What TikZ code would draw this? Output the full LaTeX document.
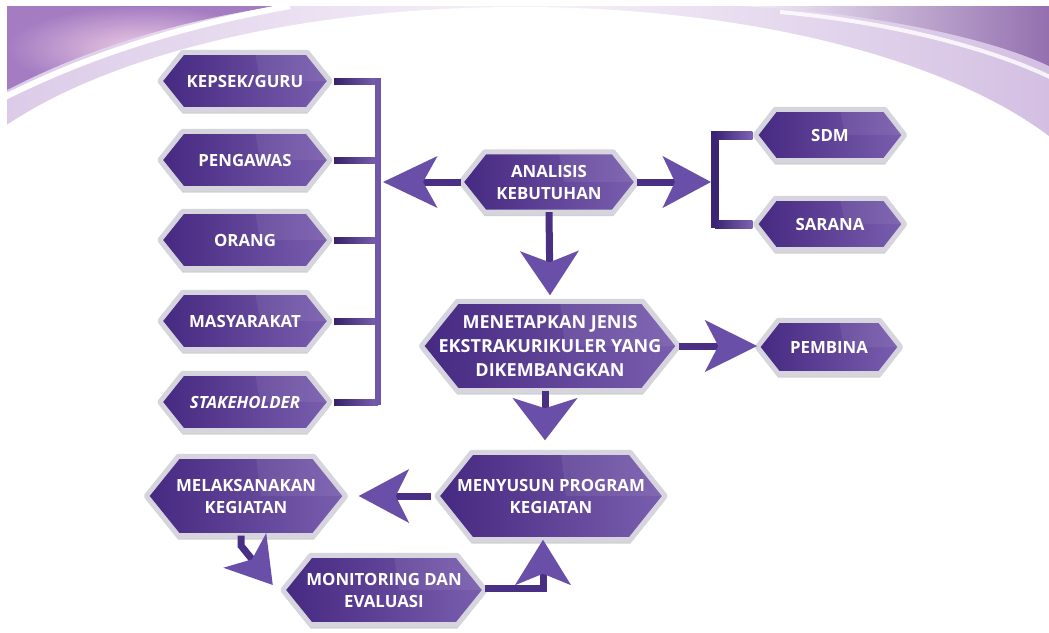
\documentclass[tikz,border=0pt]{standalone}
\usepackage{fontspec}
\setmainfont{Open Sans}
\usetikzlibrary{arrows.meta,backgrounds,calc}
\definecolor{hexdark}{HTML}{452880}
\definecolor{hexlight}{HTML}{7A5EAE}
\definecolor{rim}{HTML}{D6D5DD}
\definecolor{shaftc}{HTML}{4A3084}
\definecolor{headc}{HTML}{6A4FA9}
\definecolor{stubdark}{HTML}{352268}
\definecolor{stublight}{HTML}{7C62B2}
\definecolor{barc}{HTML}{7056A8}
\definecolor{rbarc}{HTML}{3C2474}
\definecolor{swA}{HTML}{A47CC2}
\definecolor{swB}{HTML}{DCCBE8}
\definecolor{swC}{HTML}{F6F1F9}
\definecolor{pinkhl}{HTML}{EDCBE4}
\newcommand\myhex[2]{(#1.west) -- ([xshift=#2]#1.north west) -- ([xshift=-#2]#1.north east) -- (#1.east) -- ([xshift=-#2]#1.south east) -- ([xshift=#2]#1.south west) -- cycle}
\tikzset{
  hexnode/.style n args={2}{minimum width=#1, minimum height=#2, inner sep=0pt,
    text=white, font=\bfseries\fontsize{16.8}{22}\selectfont, align=center},
  bigtext/.style={font=\bfseries\fontsize{18}{24}\selectfont},
  shaft/.style={draw=shaftc, line width=7pt},
  headtip/.style n args={3}{-{Stealth[length=#1, width=#2, inset=#3, color=headc]}}
}
\begin{document}
\begin{tikzpicture}[x=1pt,y=-1pt]
\useasboundingbox (0,0) rectangle (1049,632);
% ---------- nodes ----------
\node[hexnode={170pt}{57pt}] (kep) at (245,81) {KEPSEK/GURU};
\node[hexnode={170pt}{57pt}] (pen) at (245,160) {PENGAWAS};
\node[hexnode={170pt}{57pt}] (ora) at (245,240) {ORANG};
\node[hexnode={170pt}{57pt}] (mas) at (245,321) {MASYARAKAT};
\node[hexnode={170pt}{57pt}] (sta) at (245,402) {\itshape STAKEHOLDER};
\node[hexnode={176pt}{60pt}] (ana) at (549,182) {ANALISIS\\KEBUTUHAN};
\node[hexnode={149pt}{51pt}] (sdm) at (830,135) {SDM};
\node[hexnode={149pt}{51pt}] (sar) at (830,224) {SARANA};
\node[hexnode={257pt}{89pt}, bigtext] (met) at (550,346) {MENETAPKAN JENIS\\EKSTRAKURIKULER YANG\\DIKEMBANGKAN};
\node[hexnode={143pt}{53pt}] (pem) at (829,347) {PEMBINA};
\node[hexnode={228pt}{87pt}] (men) at (551,496) {MENYUSUN PROGRAM\\KEGIATAN};
\node[hexnode={199pt}{79pt}] (mel) at (246,496) {MELAKSANAKAN\\KEGIATAN};
\node[hexnode={202pt}{69pt}] (mon) at (384,590) {MONITORING DAN\\EVALUASI};
% ---------- background ----------
\begin{pgfonlayer}{background}
\fill[white] (0,0) rectangle (1049,632);
\begin{scope}
\clip (7,6) rectangle (1049,632);
\shade[left color=swB, right color=swB!85!swA, middle color=swC] (7,6) rectangle (1049,270);
\shade[inner color=pinkhl, outer color=swA] (7,6) -- (7,90) .. controls (80,52) and (170,22) .. (278,6) -- cycle;
\draw[white, line width=6pt] (3,98) .. controls (85,57) and (175,27) .. (290,6);
\shade[left color=swC, right color=swA!90!black] (740,6) .. controls (870,12) and (990,38) .. (1049,66) -- (1049,6) -- cycle;
\draw[white, line width=4pt, opacity=.8] (780,12) .. controls (890,22) and (990,48) .. (1052,78);
\fill[white] (520,252) ellipse [x radius=600, y radius=245];
\end{scope}
% ---------- hexagons ----------
\foreach \n/\d in {kep/23,pen/23,ora/23,mas/23,sta/23,ana/24,sdm/20,sar/20,met/36,pem/21,men/35,mel/32,mon/28}{
  \fill[black, opacity=.18, transform canvas={yshift=-4pt}] \myhex{\n}{\d};
  \shade[left color=hexdark, right color=hexlight] \myhex{\n}{\d};
  \fill[white, opacity=.07] ([xshift=10pt]\n.north) -- ([xshift=-\d]\n.north east) -- (\n.east) -- ([xshift=15pt]\n.center) -- cycle;
  \draw[rim, line width=5pt, line join=round] \myhex{\n}{\d};
}
\end{pgfonlayer}
% ---------- left bracket ----------
\coordinate (lb) at (378,0);
\foreach \n in {kep,pen,ora,mas,sta}{
  \shade[left color=stubdark, right color=stublight] ([xshift=4pt,yshift=3pt]\n.east) rectangle ([yshift=-3pt]\n.east -| lb);
}
\draw[barc, line width=6pt] ([yshift=3pt]kep.east -| lb) -- ([yshift=-3pt]sta.east -| lb);
% ---------- right bracket ----------
\coordinate (rb) at (715,0);
\draw[rbarc, line width=8pt] ([yshift=4pt]sdm.west -| rb) -- ([yshift=-4pt]sar.west -| rb);
\shade[left color=rbarc, right color=stublight] ([yshift=4pt]sdm.west -| rb) rectangle ([xshift=-3pt,yshift=-4pt]sdm.west);
\shade[left color=rbarc, right color=stublight] ([yshift=4pt]sar.west -| rb) rectangle ([xshift=-3pt,yshift=-4pt]sar.west);
% ---------- arrows ----------
\coordinate (lbt) at (383,182);
\coordinate (rbt) at (711,182);
\draw[shaft, headtip={54pt}{51pt}{14pt}] (ana.west) -- (lbt);
\draw[shaft, headtip={48pt}{51pt}{12pt}] (ana.east) -- (rbt);
\draw[shaft, headtip={44pt}{58pt}{11pt}] (ana.south) -- ([yshift=6pt]met.north);
\draw[shaft, headtip={52pt}{51pt}{13pt}] (met.east) -- (met.east -| pem.west);
\draw[shaft, headtip={42pt}{64pt}{10pt}] ([xshift=-5pt]met.south) -- ([xshift=-6pt,yshift=12pt]men.north);
\draw[shaft, headtip={50pt}{53pt}{13pt}] ([xshift=-6pt]men.west) -- ([xshift=13pt]mel.east);
\draw[shaft, headtip={44pt}{54pt}{11pt}] ([xshift=-5pt]mel.south) -- ++(0,10) -- ([xshift=-10pt,yshift=5pt]mon.west);
\draw[shaft, headtip={45pt}{55pt}{11pt}] ([yshift=2pt]mon.east) -| ([xshift=-8pt]men.south);
\end{tikzpicture}
\end{document}
